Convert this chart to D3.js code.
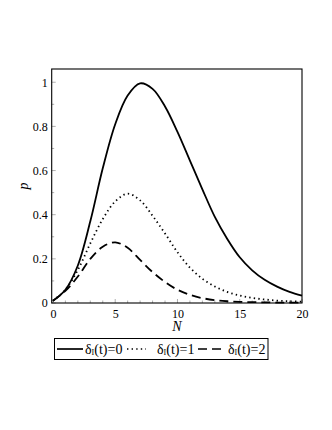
<!DOCTYPE html>
<html><head><meta charset="utf-8">
<script src="https://cdn.jsdelivr.net/npm/d3@7"></script>
<style>body{margin:0;background:#fff}svg{display:block}</style>
</head><body>
<svg id="c" width="332" height="430"></svg>
<script>
const N = [0,1,2,3,4,5,6,7,8,9,10,11,12,13,14,15,16,17,18,19,20];
const p0 = [0.01,0.06,0.17,0.37,0.61,0.81,0.94,0.995,0.97,0.89,0.775,0.645,0.515,0.39,0.29,0.207,0.148,0.105,0.074,0.05,0.033];
const p1 = [0.01,0.06,0.15,0.27,0.38,0.46,0.495,0.465,0.395,0.315,0.23,0.16,0.11,0.075,0.05,0.034,0.023,0.016,0.011,0.008,0.006];
const p2 = [0.01,0.055,0.12,0.2,0.255,0.275,0.25,0.195,0.14,0.095,0.06,0.037,0.022,0.013,0.008,0.005,0.004,0.003,0.002,0.002,0.002];
const xTicks = [0,5,10,15,20];
const yTicks = [0,0.2,0.4,0.6,0.8,1];
const yTickLabels = ["0","0.2","0.4","0.6","0.8","1"];
const seriesNames = ["0","1","2"];

const svg = d3.select("#c");
const L=51.7, R=302, T=69, B=303;
const x = d3.scaleLinear().domain([-0.1,20]).range([L,R]);
const y = d3.scaleLinear().domain([0,1.06]).range([B,T]);
const font = "'Liberation Serif','Times New Roman',serif";

// minor ticks inside
const g = svg.append("g");
g.selectAll("line.xm").data(d3.range(0,21,1)).enter().append("line")
  .attr("x1",d=>x(d)).attr("x2",d=>x(d)).attr("y1",B).attr("y2",d=>B-(d%5===0?4:2.5))
  .attr("stroke","#999").attr("stroke-width",0.8);
g.selectAll("line.ym").data(d3.range(0,1.05,0.1)).enter().append("line")
  .attr("x1",L).attr("x2",d=>L+(Math.round(d*10)%2===0?4:2.5)).attr("y1",d=>y(d)).attr("y2",d=>y(d))
  .attr("stroke","#999").attr("stroke-width",0.8);

// axes tick labels
const xa = d3.axisBottom(x).tickValues(xTicks).tickSize(0).tickPadding(6);
svg.append("g").attr("transform",`translate(0,${B})`).call(xa)
  .call(s=>s.select(".domain").remove())
  .selectAll("text").attr("font-family",font).attr("font-size",12).attr("fill","#000");
const ya = d3.axisLeft(y).tickValues(yTicks).tickFormat((d,i)=>yTickLabels[i]).tickSize(0).tickPadding(4);
svg.append("g").attr("transform",`translate(${L},0)`).call(ya)
  .call(s=>s.select(".domain").remove())
  .selectAll("text").attr("font-family",font).attr("font-size",12).attr("fill","#000");

// lines
const line = arr => d3.line().x((d,i)=>x(N[i])).y(d=>y(d)).curve(d3.curveCatmullRom.alpha(0.5))(arr);
const styles = [null,"1.4,3.2","9,5"];
[p0,p1,p2].forEach((arr,k)=>{
  svg.append("path").attr("d",line(arr)).attr("fill","none").attr("stroke","#000")
    .attr("stroke-width",1.8).attr("stroke-dasharray",styles[k]);
});

// frame
svg.append("rect").attr("x",L).attr("y",T).attr("width",R-L).attr("height",B-T)
  .attr("fill","none").attr("stroke","#000").attr("stroke-width",1.1);

// axis labels
svg.append("text").attr("x",177).attr("y",331).attr("text-anchor","middle")
  .attr("font-family",font).attr("font-style","italic").attr("font-size",14).text("N");
svg.append("text").attr("transform","translate(28,186) rotate(-90)").attr("text-anchor","middle")
  .attr("font-family",font).attr("font-style","italic").attr("font-size",14).text("p");

// legend
const lg = svg.append("g");
lg.append("rect").attr("x",54.5).attr("y",338.5).attr("width",213.5).attr("height",21)
  .attr("fill","none").attr("stroke","#000").attr("stroke-width",1);
const items = [{x1:57,x2:83,tx:85},{x1:127,x2:146,tx:157},{x1:198,x2:224,tx:228}];
items.forEach((it,k)=>{
  lg.append("line").attr("x1",it.x1).attr("x2",it.x2).attr("y1",349).attr("y2",349)
    .attr("stroke","#000").attr("stroke-width",1.7).attr("stroke-dasharray",styles[k]);
  const t = lg.append("text").attr("x",it.tx).attr("y",354).attr("font-family",font).attr("font-size",14);
  t.append("tspan").text("δ");
  t.append("tspan").attr("font-size",8).attr("dy",1).text("I");
  t.append("tspan").attr("dy",-1).text("(t)="+seriesNames[k]);
});
</script>
</body></html>
